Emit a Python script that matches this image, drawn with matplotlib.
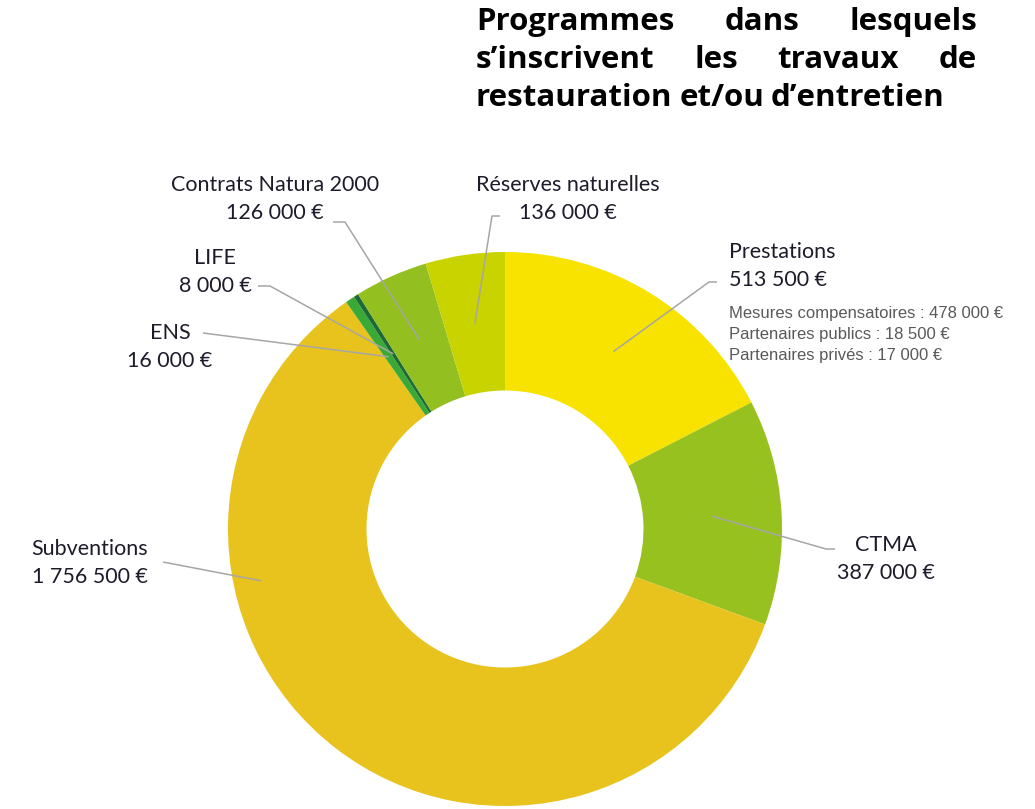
import numpy as np
import matplotlib
matplotlib.use('Agg')
import matplotlib.pyplot as plt

# donnees
categories = ['Prestations', 'CTMA', 'Subventions', 'ENS', 'LIFE',
              'Contrats Natura 2000', 'Réserves naturelles']
montants = [513500, 387000, 1756500, 16000, 8000, 126000, 136000]
montants_txt = ['513 500 €', '387 000 €', '1 756 500 €', '16 000 €', '8 000 €',
                '126 000 €', '136 000 €']
couleurs = ['#F8E300', '#97C11F', '#E8C31D', '#3BA935', '#1D6A35',
            '#93BF21', '#C9D300']
detail_prestations = ['Mesures compensatoires : 478 000 €',
                      'Partenaires publics : 18 500 €',
                      'Partenaires privés : 17 000 €']
titre = ['Programmes dans lesquels',
         's’inscrivent les travaux de',
         'restauration et/ou d’entretien']

W, H = 1035, 809
fig = plt.figure(figsize=(W / 100, H / 100), dpi=100)
ax = fig.add_axes([0, 0, 1, 1])

def py(y):
    # coordonnees pixel (haut=0) -> coordonnees de l'axe
    return H - y

cx, cy, R = 505, py(529), 277
wedges, _ = ax.pie(montants, colors=couleurs, startangle=90, counterclock=False,
                   radius=R, center=(cx, cy),
                   wedgeprops=dict(width=R * 0.5, edgecolor='none'))
ax.set_xlim(0, W)
ax.set_ylim(0, H)
ax.set_aspect('equal')
ax.axis('off')

# position des etiquettes: (x texte, y texte, alignement, coude x, coude y, fin x)
etiquettes = [
    (729, 266, 'left', 709, 282, 717),
    (886, 559, 'center', 826, 549, 835),
    (90, 563, 'center', 163, 562, 163),
    (170, 347, 'center', 203, 333, 203),
    (215, 272, 'center', 270, 286, 258),
    (275, 199, 'center', 345, 222, 333),
    (568, 199, 'center', 492, 216, 500),
]
# points d'ancrage particuliers (angle depuis le haut, rayon relatif)
ancrage_special = {'Subventions': (258, 0.9)}

texte_col = '#1C1C2A'
for w, cat, txt, lab in zip(wedges, categories, montants_txt, etiquettes):
    tx, ty, ha, ex, ey, fx = lab
    if cat in ancrage_special:
        ang, rr = ancrage_special[cat]
        a = np.deg2rad(90 - ang)
    else:
        a = np.deg2rad((w.theta1 + w.theta2) / 2)
        rr = 0.75
    axx = cx + rr * R * np.cos(a)
    ayy = cy + rr * R * np.sin(a)
    ax.plot([axx, ex, fx], [ayy, py(ey), py(ey)], color='#A6A6A6', lw=1.1,
            solid_capstyle='butt')
    ax.text(tx, py(ty), cat + '\n' + txt, ha=ha, va='center', fontsize=15.5,
            family='Lato', color=texte_col, linespacing=1.5)

for i, l in enumerate(detail_prestations):
    ax.text(729, py(313 + 21 * i), l, ha='left', va='center', fontsize=12,
            family='Liberation Sans', color='#595959')

# titre justifie
fig.canvas.draw()
r = fig.canvas.get_renderer()
x0, x1 = 476, 977
for i, ligne in enumerate(titre):
    y = py(22 + 38 * i)
    mots = ligne.split(' ')
    objs = [ax.text(0, y, m, fontsize=22.5, family='Open Sans', weight='bold',
                    color='#000000', va='center', ha='left') for m in mots]
    larg = [o.get_window_extent(r).width for o in objs]
    if i < len(titre) - 1:
        gap = (x1 - x0 - sum(larg)) / (len(mots) - 1)
    else:
        gap = objs[0].get_fontsize() * 0.3
    x = x0
    for o, lw in zip(objs, larg):
        o.set_x(x)
        x += lw + gap

fig.savefig('out.png', dpi=100)
